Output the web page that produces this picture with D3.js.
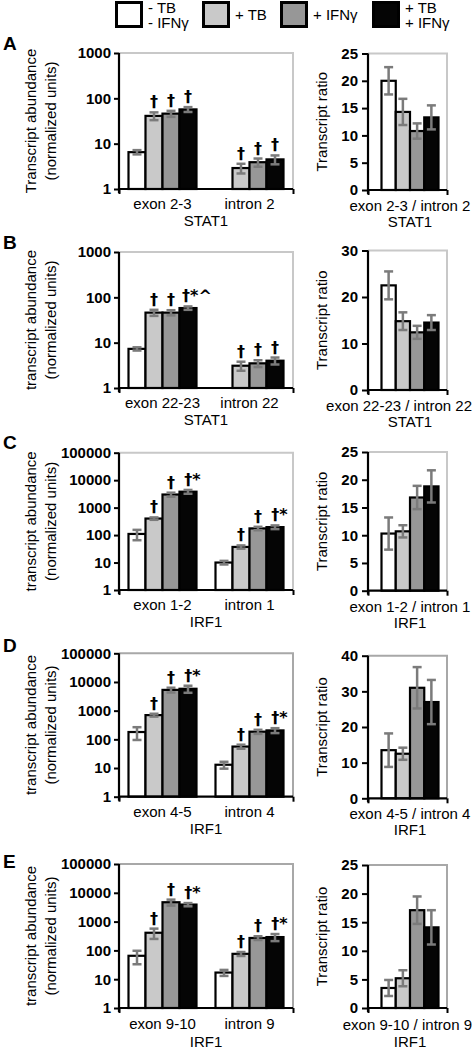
<!DOCTYPE html>
<html><head><meta charset="utf-8">
<script src="https://cdn.jsdelivr.net/npm/d3@7"></script>
<style>
body{margin:0;background:#fff}
svg{display:block}
text{font-family:"Liberation Sans",Arial,sans-serif;fill:#000}
</style>
</head><body>
<svg id="c" width="474" height="1050"></svg>
<script>
// ---------- data ----------
const conditions = ["-TB -IFNγ", "+TB", "+IFNγ", "+TB +IFNγ"];
const legendLines = [["- TB", "- IFNγ"], ["+ TB"], ["+ IFNγ"], ["+ TB", "+ IFNγ"]];
const panelLetters = ["A", "B", "C", "D", "E"];
const genes = ["STAT1", "STAT1", "IRF1", "IRF1", "IRF1"];
const yTitles = ["Transcript abundance", "transcript abundance", "transcript abundance", "transcript abundance", "transcript abundance"];

const regionsA = ["exon 2-3", "intron 2"];
const regionsB = ["exon 22-23", "intron 22"];
const regionsC = ["exon 1-2", "intron 1"];
const regionsD = ["exon 4-5", "intron 4"];
const regionsE = ["exon 9-10", "intron 9"];
const ratioLabels = ["exon 2-3 / intron 2", "exon 22-23 / intron 22", "exon 1-2 / intron 1", "exon 4-5 / intron 4", "exon 9-10 / intron 9"];

// abundance: [exon values, intron values], per condition
const abundanceA = [[6.5, 41, 46, 57], [1, 2.9, 3.9, 4.5]];
const abundanceErrA = [[0.7, 8, 7, 7], [0, 0.7, 0.8, 1.0]];
const abundanceB = [[7.3, 46, 46, 58], [1, 3.1, 3.5, 4.0]];
const abundanceErrB = [[0.6, 7, 6, 5], [0, 0.7, 0.6, 0.7]];
const abundanceC = [[110, 400, 3000, 3800], [10, 37, 175, 195]];
const abundanceErrC = [[45, 40, 500, 600], [1.5, 5, 25, 30]];
const abundanceD = [[180, 700, 5300, 5800], [13, 56, 185, 205]];
const abundanceErrD = [[85, 80, 1000, 1600], [3.5, 9, 30, 40]];
const abundanceE = [[65, 410, 4700, 3900], [17, 76, 270, 290]];
const abundanceErrE = [[32, 160, 1100, 500], [4, 12, 40, 80]];

const marksA = [["", "†", "†", "†"], ["", "†", "†", "†"]];
const marksB = [["", "†", "†", "†*^"], ["", "†", "†", "†"]];
const marksC = [["", "†", "†", "†*"], ["", "†", "†", "†*"]];
const marksD = [["", "†", "†", "†*"], ["", "†", "†", "†*"]];
const marksE = [["", "†", "†", "†*"], ["", "†", "†", "†*"]];

const ratioA = [20, 14.3, 10.8, 13.3];
const ratioErrA = [2.5, 2.4, 1.4, 2.2];
const ratioB = [22.5, 14.8, 12.4, 14.5];
const ratioErrB = [3, 1.9, 1.4, 1.6];
const ratioC = [10.3, 10.7, 16.8, 18.8];
const ratioErrC = [2.9, 1.1, 2.1, 2.9];
const ratioD = [13.5, 12.5, 31, 27];
const ratioErrD = [4.7, 1.7, 5.8, 6.2];
const ratioE = [3.5, 5.2, 17.1, 14.1];
const ratioErrE = [1.4, 1.4, 2.4, 3.0];

const abundanceTicksSTAT1 = [1, 10, 100, 1000];
const abundanceTicksIRF1 = [1, 10, 100, 1000, 10000, 100000];
const ratioTicksA = [0, 5, 10, 15, 20, 25];
const ratioTicksB = [0, 10, 20, 30];
const ratioTicksC = [0, 5, 10, 15, 20, 25];
const ratioTicksD = [0, 10, 20, 30, 40];
const ratioTicksE = [0, 5, 10, 15, 20, 25];

// ---------- styles & layout ----------
const fills = ["#ffffff", "#c9c9c9", "#979797", "#050505"];
const errColor = "#7b7b7b";
const frameColor = ["#c8c8c8", "#c8c8c8", "#c8c8c8", "#a8a8a8", "#a8a8a8"];
const layout = [
  {top: 53, bottom: 189, rTop: 53.5, rBottom: 190, letterY: 50, labelDy: 21, geneDy: 37},
  {top: 252, bottom: 388, rTop: 250.5, rBottom: 390, letterY: 249, labelDy: 21, geneDy: 37},
  {top: 452.7, bottom: 590, rTop: 452, rBottom: 590.7, letterY: 449, labelDy: 21, geneDy: 37},
  {top: 653.3, bottom: 796.7, rTop: 655.7, rBottom: 798.3, letterY: 652, labelDy: 21, geneDy: 37},
  {top: 864, bottom: 1008, rTop: 865, rBottom: 1008, letterY: 868, labelDy: 22, geneDy: 38.5}
];
const L0 = 119, L1 = 293, R0 = 368, R1 = 447;

const panels = [
  {regions: regionsA, ab: abundanceA, abErr: abundanceErrA, marks: marksA, ratio: ratioA, ratioErr: ratioErrA, abTicks: abundanceTicksSTAT1, rTicks: ratioTicksA},
  {regions: regionsB, ab: abundanceB, abErr: abundanceErrB, marks: marksB, ratio: ratioB, ratioErr: ratioErrB, abTicks: abundanceTicksSTAT1, rTicks: ratioTicksB},
  {regions: regionsC, ab: abundanceC, abErr: abundanceErrC, marks: marksC, ratio: ratioC, ratioErr: ratioErrC, abTicks: abundanceTicksIRF1, rTicks: ratioTicksC},
  {regions: regionsD, ab: abundanceD, abErr: abundanceErrD, marks: marksD, ratio: ratioD, ratioErr: ratioErrD, abTicks: abundanceTicksIRF1, rTicks: ratioTicksD},
  {regions: regionsE, ab: abundanceE, abErr: abundanceErrE, marks: marksE, ratio: ratioE, ratioErr: ratioErrE, abTicks: abundanceTicksIRF1, rTicks: ratioTicksE}
];

const svg = d3.select("#c");

// ---------- legend ----------
const legendX = [115, 202, 280, 372];
const lg = svg.append("g");
conditions.forEach((c, i) => {
  lg.append("rect").attr("x", legendX[i] + 1.5).attr("y", 2.5).attr("width", 25).attr("height", 24)
    .attr("fill", fills[i]).attr("stroke", "#000").attr("stroke-width", 3);
  const lines = legendLines[i];
  lines.forEach((t, j) => {
    const y = lines.length === 1 ? 20 : 13 + j * 15;
    lg.append("text").attr("x", legendX[i] + 33).attr("y", y).attr("font-size", 15).text(t);
  });
});

function errorBar(g, x, y1, y2) {
  g.append("line").attr("x1", x).attr("x2", x).attr("y1", y1).attr("y2", y2)
    .attr("stroke", errColor).attr("stroke-width", 2.5);
  [y1, y2].forEach(y => g.append("line").attr("x1", x - 4.5).attr("x2", x + 4.5).attr("y1", y).attr("y2", y)
    .attr("stroke", errColor).attr("stroke-width", 2.5));
}

panels.forEach((p, pi) => {
  const lo = layout[pi];
  const g = svg.append("g");

  // panel letter
  g.append("text").attr("x", 3).attr("y", lo.letterY).attr("font-size", 19).attr("font-weight", "bold").text(panelLetters[pi]);

  // ===== left: abundance (log) =====
  const y = d3.scaleLog().domain([1, d3.max(p.abTicks)]).range([lo.bottom, lo.top]);
  const x = d3.scaleBand().domain(p.regions).range([L0, L1]);
  const inner = d3.scaleBand().domain(conditions).range([0, 68]);
  const off = (x.bandwidth() - 68) / 2;

  // frame (top & right)
  g.append("path").attr("d", `M${L0},${lo.top}H${L1}V${lo.bottom}`)
    .attr("fill", "none").attr("stroke", frameColor[pi]).attr("stroke-width", 2);

  p.regions.forEach((r, ri) => {
    conditions.forEach((c, ci) => {
      const v = p.ab[ri][ci], e = p.abErr[ri][ci];
      const bx = x(r) + off + inner(c);
      g.append("rect").attr("x", bx).attr("y", y(v)).attr("width", inner.bandwidth())
        .attr("height", lo.bottom - y(v)).attr("fill", fills[ci]).attr("stroke", "#000").attr("stroke-width", 2.2);
      const cx = bx + inner.bandwidth() / 2;
      if (e > 0) errorBar(g, cx, y(v - e), y(v + e));
      const m = p.marks[ri][ci];
      if (m) g.append("text").attr("x", cx + (m.length > 1 ? (m.length - 1) * 4.5 : 0)).attr("y", y(v + e) - 5)
        .attr("text-anchor", "middle").attr("font-size", 16).attr("font-weight", "bold")
        .style("font-family", "'DejaVu Sans', sans-serif").style("fill", "#000").text(m);
    });
  });

  const yAxis = d3.axisLeft(y).tickValues(p.abTicks).tickFormat(d3.format("d")).tickSize(5).tickPadding(3);
  const ya = g.append("g").attr("transform", `translate(${L0},0)`).call(yAxis);
  ya.select(".domain").attr("stroke", "#000").attr("stroke-width", 2.2).attr("d", `M0,${lo.top}V${lo.bottom + 4}`);
  ya.selectAll(".tick line").attr("stroke", "#000").attr("stroke-width", 2);
  ya.selectAll(".tick text").attr("font-size", 15).attr("font-weight", "bold").attr("fill", "#000")
    .attr("font-family", "Liberation Sans, Arial, sans-serif");

  // x axis
  const xa = g.append("g").attr("transform", `translate(0,${lo.bottom})`)
    .call(d3.axisBottom(d3.scaleLinear().domain([0, 1]).range([L0, L1])).tickValues([0, 1]).tickSize(5).tickFormat(""));
  xa.select(".domain").attr("stroke", "#000").attr("stroke-width", 2.2).attr("d", `M${L0},0H${L1}`);
  xa.selectAll(".tick line").attr("stroke", "#000").attr("stroke-width", 2);
  p.regions.forEach(r => {
    g.append("text").attr("x", x(r) + x.bandwidth() / 2).attr("y", lo.bottom + lo.labelDy - 1)
      .attr("text-anchor", "middle").attr("font-size", 15).text(r);
  });
  g.append("text").attr("x", (L0 + L1) / 2).attr("y", lo.bottom + lo.geneDy)
    .attr("text-anchor", "middle").attr("font-size", 15).text(genes[pi]);

  // y title
  const ym = (lo.top + lo.bottom) / 2;
  g.append("text").attr("transform", `translate(36,${ym}) rotate(-90)`).attr("text-anchor", "middle")
    .attr("font-size", 15).text(yTitles[pi]);
  g.append("text").attr("transform", `translate(56,${ym}) rotate(-90)`).attr("text-anchor", "middle")
    .attr("font-size", 15).text("(normalized units)");

  // ===== right: ratio =====
  const yr = d3.scaleLinear().domain([0, d3.max(p.rTicks)]).range([lo.rBottom, lo.rTop]);
  const xr = d3.scaleBand().domain(conditions).range([R0 + 13.5, R1 - 8.5]);

  g.append("path").attr("d", `M${R0},${lo.rTop}H${R1}V${lo.rBottom}`)
    .attr("fill", "none").attr("stroke", frameColor[pi]).attr("stroke-width", 2);

  conditions.forEach((c, ci) => {
    const v = p.ratio[ci], e = p.ratioErr[ci];
    g.append("rect").attr("x", xr(c)).attr("y", yr(v)).attr("width", xr.bandwidth())
      .attr("height", lo.rBottom - yr(v)).attr("fill", fills[ci]).attr("stroke", "#000").attr("stroke-width", 2.2);
    errorBar(g, xr(c) + xr.bandwidth() / 2, yr(v - e), yr(v + e));
  });

  const ra = g.append("g").attr("transform", `translate(${R0},0)`)
    .call(d3.axisLeft(yr).tickValues(p.rTicks).tickSize(6).tickPadding(4));
  ra.select(".domain").attr("stroke", "#000").attr("stroke-width", 2.2).attr("d", `M0,${lo.rTop}V${lo.rBottom + 4}`);
  ra.selectAll(".tick line").attr("stroke", "#000").attr("stroke-width", 2);
  ra.selectAll(".tick text").attr("font-size", 15).attr("font-weight", "bold").attr("fill", "#000")
    .attr("font-family", "Liberation Sans, Arial, sans-serif");

  const rxa = g.append("g").attr("transform", `translate(0,${lo.rBottom})`)
    .call(d3.axisBottom(d3.scaleLinear().domain([0, 1]).range([R0, R1])).tickValues([0, 1]).tickSize(5).tickFormat(""));
  rxa.select(".domain").attr("stroke", "#000").attr("stroke-width", 2.2).attr("d", `M${R0},0H${R1}`);
  rxa.selectAll(".tick line").attr("stroke", "#000").attr("stroke-width", 2);

  const rl = g.append("text").attr("y", lo.rBottom + lo.labelDy).attr("text-anchor", "middle").attr("font-size", 15).text(ratioLabels[pi]);
  const w = rl.node().getComputedTextLength();
  const cxr = Math.min(410, 472 - w / 2);
  rl.attr("x", cxr);
  g.append("text").attr("x", 410).attr("y", lo.rBottom + lo.geneDy).attr("text-anchor", "middle").attr("font-size", 15).text(genes[pi]);

  g.append("text").attr("transform", `translate(327,${(lo.rTop + lo.rBottom) / 2}) rotate(-90)`).attr("text-anchor", "middle")
    .attr("font-size", 15).text("Transcript ratio");
});
</script>
</body></html>
